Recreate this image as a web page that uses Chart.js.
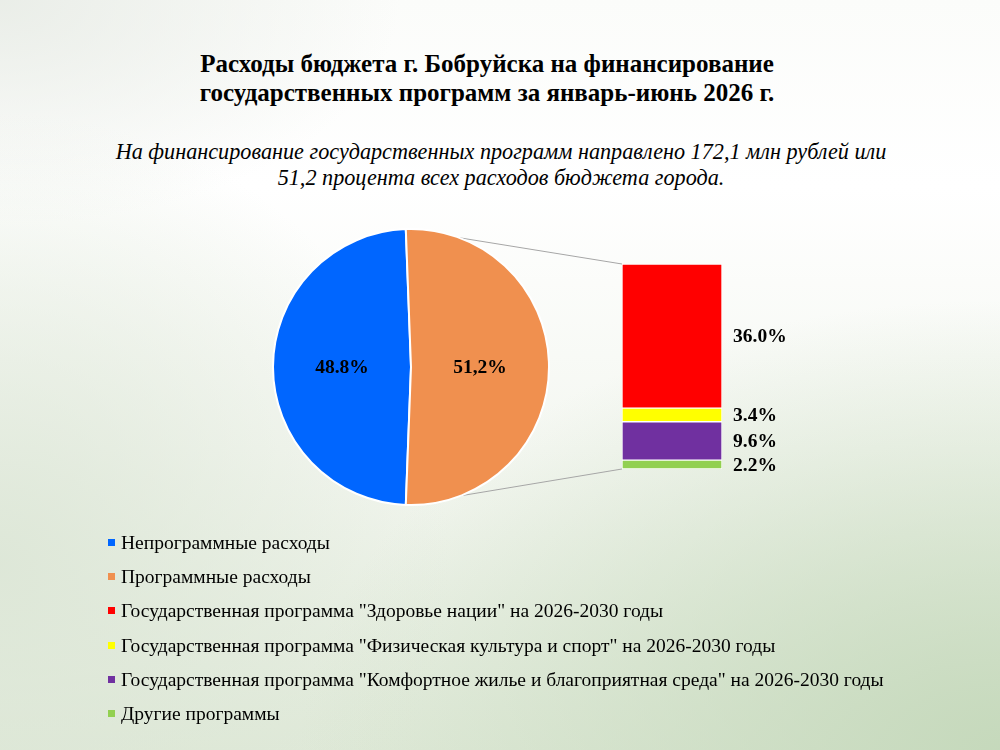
<!DOCTYPE html>
<html lang="ru">
<head>
<meta charset="utf-8">
<title>Расходы бюджета г. Бобруйска</title>
<script src="https://cdn.jsdelivr.net/npm/chart.js@4.4.1/dist/chart.umd.min.js"></script>
<style>
  html, body { margin: 0; padding: 0; }
  body {
    width: 1000px; height: 750px; position: relative; overflow: hidden;
    font-family: "Liberation Serif", "Times New Roman", serif; color: #000;
    background:
      radial-gradient(ellipse 70% 60% at 100% 100%, rgba(196,216,186,0.95) 0%, rgba(196,216,186,0) 100%),
      radial-gradient(ellipse 45% 60% at 0% 75%, rgba(220,230,214,0.9) 0%, rgba(220,230,214,0) 100%),
      radial-gradient(ellipse 40% 30% at 0% 0%, rgba(232,236,230,0.9) 0%, rgba(232,236,230,0) 100%),
      linear-gradient(to bottom, #fbfcfa 0%, #ffffff 25%, #f4f7f1 60%, #dfe9d8 100%);
  }
  #title {
    position: absolute; left: 137px; top: 49px; width: 700px;
    text-align: center; font-weight: bold; font-size: 25px; line-height: 29px;
  }
  #subtitle {
    position: absolute; left: 50px; top: 139px; width: 902px;
    text-align: center; font-style: italic; font-size: 22.2px; line-height: 26px;
  }
  #lines { position: absolute; left: 0; top: 0; z-index: 0; }
  #pie { position: absolute; left: 270px; top: 226px; z-index: 1; }
  #bar { position: absolute; left: 572px; top: 254px; z-index: 1; }
  #legend { position: absolute; left: 108px; top: 531px; z-index: 1; }
  .item { height: 34.2px; font-size: 19.5px; line-height: 24px; white-space: nowrap; }
  .item i {
    display: inline-block; width: 7px; height: 7px; margin-right: 6px;
    vertical-align: 3px;
  }
</style>
</head>
<body>
<div id="title">Расходы бюджета г. Бобруйска на финансирование<br>государственных программ за январь-июнь 2026 г.</div>
<div id="subtitle">На финансирование государственных программ направлено 172,1 млн рублей или<br>51,2 процента всех расходов бюджета города.</div>
<canvas id="lines" width="1000" height="750"></canvas>
<canvas id="pie" width="282" height="282"></canvas>
<canvas id="bar" width="250" height="225"></canvas>
<div id="legend"></div>
<script>
const pieLabels = ['Непрограммные расходы', 'Программные расходы'];
const pieValues = [48.8, 51.2];
const pieTexts = ['48.8%', '51,2%'];
const pieColors = ['#0066ff', '#f0904f'];

const barLabels = [
  'Государственная программа "Здоровье нации" на 2026-2030 годы',
  'Государственная программа "Физическая культура и спорт" на 2026-2030 годы',
  'Государственная программа "Комфортное жилье и благоприятная среда" на 2026-2030 годы',
  'Другие программы'
];
const barValues = [36.0, 3.4, 9.6, 2.2];
const barTexts = ['36.0%', '3.4%', '9.6%', '2.2%'];
const barColors = ['#ff0000', '#ffff00', '#7030a0', '#92d050'];

const labelFont = 'bold 19.5px "Liberation Serif", "Times New Roman", serif';

// value labels drawn on top of the marks
const valueLabels = {
  id: 'valueLabels',
  afterDatasetsDraw(chart) {
    const ctx = chart.ctx;
    ctx.save();
    ctx.font = labelFont;
    ctx.fillStyle = '#000';
    ctx.textBaseline = 'middle';
    chart.data.datasets.forEach((ds, i) => {
      chart.getDatasetMeta(i).data.forEach((el, j) => {
        if (chart.config.type === 'pie') {
          const p = el.tooltipPosition(true);
          ctx.textAlign = 'center';
          ctx.fillText(ds.texts[j], p.x, p.y + 1);
        } else {
          const { x, y, base, width } = el.getProps(['x', 'y', 'base', 'width'], true);
          ctx.textAlign = 'left';
          ctx.fillText(ds.texts[j], x + width / 2 + 11, (y + base) / 2 + 1);
        }
      });
    });
    ctx.restore();
  }
};

// rotate so that the programme slice is centred at 3 o'clock
const total = pieValues.reduce((a, b) => a + b, 0);
const blueAngle = pieValues[0] / total * 360;
const orangeAngle = pieValues[1] / total * 360;

const pieChart = new Chart(document.getElementById('pie'), {
  type: 'pie',
  data: {
    labels: pieLabels,
    datasets: [{
      data: pieValues,
      texts: pieTexts,
      backgroundColor: pieColors,
      borderColor: '#ffffff',
      borderWidth: 2
    }]
  },
  options: {
    responsive: false,
    animation: false,
    rotation: 90 - blueAngle - orangeAngle / 2,
    layout: { padding: 2 },
    plugins: { legend: { display: false }, tooltip: { enabled: false } }
  },
  plugins: [valueLabels]
});

const barChart = new Chart(document.getElementById('bar'), {
  type: 'bar',
  data: {
    labels: ['Программные расходы'],
    datasets: barValues.map((v, i) => ({
      label: barLabels[i],
      data: [v],
      texts: [barTexts[i]],
      backgroundColor: barColors[i],
      borderColor: '#ffffff',
      borderWidth: 1,
      borderSkipped: false,
      barPercentage: 1,
      categoryPercentage: 1
    })).reverse()
  },
  options: {
    responsive: false,
    animation: false,
    layout: { padding: { left: 50, right: 100, top: 10, bottom: 10 } },
    scales: {
      x: { stacked: true, display: false },
      y: { stacked: true, display: false, min: 0, max: barValues.reduce((a, b) => a + b, 0) }
    },
    plugins: { legend: { display: false }, tooltip: { enabled: false } }
  },
  plugins: [valueLabels]
});

// connector lines from the pie split points to the bar corners
function drawConnectors() {
  const pieCanvas = document.getElementById('pie');
  const barCanvas = document.getElementById('bar');
  const arc = pieChart.getDatasetMeta(0).data[1];
  const a = arc.getProps(['x', 'y', 'startAngle', 'endAngle', 'outerRadius'], true);
  const px = pieCanvas.offsetLeft, py = pieCanvas.offsetTop;
  const bx = barCanvas.offsetLeft, by = barCanvas.offsetTop;
  const metas = barChart.getSortedVisibleDatasetMetas();
  const topBar = metas[metas.length - 1].data[0].getProps(['x', 'y', 'width'], true);
  const botBar = metas[0].data[0].getProps(['x', 'base', 'width'], true);

  const ctx = document.getElementById('lines').getContext('2d');
  ctx.strokeStyle = '#a6a6a6';
  ctx.lineWidth = 1;
  ctx.beginPath();
  ctx.moveTo(px + a.x + a.outerRadius * Math.cos(a.startAngle), py + a.y + a.outerRadius * Math.sin(a.startAngle));
  ctx.lineTo(bx + topBar.x - topBar.width / 2, by + topBar.y);
  ctx.moveTo(px + a.x + a.outerRadius * Math.cos(a.endAngle), py + a.y + a.outerRadius * Math.sin(a.endAngle));
  ctx.lineTo(bx + botBar.x - botBar.width / 2, by + botBar.base);
  ctx.stroke();
}
drawConnectors();

// legend
const legend = document.getElementById('legend');
pieLabels.concat(barLabels).forEach((text, i) => {
  const color = pieColors.concat(barColors)[i];
  const row = document.createElement('div');
  row.className = 'item';
  row.innerHTML = '<i style="background:' + color + '"></i>';
  row.appendChild(document.createTextNode(text));
  legend.appendChild(row);
});
</script>
</body>
</html>
